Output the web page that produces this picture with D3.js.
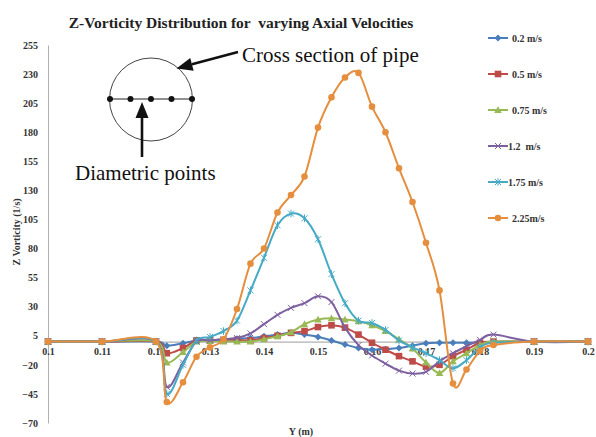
<!DOCTYPE html>
<html><head><meta charset="utf-8">
<script src="https://cdn.jsdelivr.net/npm/d3@7/dist/d3.min.js"></script>
<style>
body{margin:0;background:#fff}
svg{display:block}
text{font-family:"Liberation Serif","Times New Roman",serif;white-space:pre}
</style>
</head><body>
<svg id="c" width="596" height="437"></svg>
<script>
// ---- data ----
const yPositions = [0.1, 0.11, 0.12, 0.122, 0.125, 0.1275, 0.13, 0.1325, 0.135, 0.1375, 0.14, 0.1425, 0.145, 0.1475, 0.15, 0.1525, 0.155, 0.1575, 0.16, 0.1625, 0.165, 0.1675, 0.17, 0.1725, 0.175, 0.1775, 0.18, 0.1825, 0.19, 0.2];
const v0_2  = [0,0,0,-3.5,-1.5,1,1,2,2.5,3,4.5,6,7.5,6,4,1,-2.5,-5.5,-7,-6.5,-5.5,-3.5,-1.5,-1,-1,-1,-1,-0.5,0,0];
const v0_5  = [0,0,0,-10,-5.5,1,1,1,1.5,1,3,5,7.5,9,12.5,14,12,6,-1,-7,-12.5,-17,-21.5,-20,-12.5,-7,-1,0,0,0];
const v0_75 = [0,0,0,-18,-9,0,0.5,0,0,0,2,4.5,8,15,19,20,19,17.5,14,9,2,-6,-18,-27,-17,-10,-3,0,0,0];
const v1_2  = [0,0,0,-39,-18,0,1,2,3,7,15,23,29,33,39,34,12,-3,-12,-19,-25,-27.5,-26,-17,-10,-4,1.5,6,0,0];
const v1_75 = [0,0,0,-45,-20,1,4,9,18,44,72,100,110,106,88,58,33,18,16,10,1,-5,-10,-16,-23,-16,-5,-1,0,0];
const v2_25 = [0,0,0,-52,-35,-13,-5,2,28,67,80,111,126,142,184,210,227,231,202,180,149,120,85,44,-36,-24,-8,-3,0,0];
const seriesNames = ["0.2 m/s", "0.5 m/s", "0.75 m/s", "1.2  m/s", "1.75 m/s", "2.25m/s"];
const seriesValues = [v0_2, v0_5, v0_75, v1_2, v1_75, v2_25];
const xTickValues = [0.1, 0.11, 0.12, 0.13, 0.14, 0.15, 0.16, 0.17, 0.18, 0.19, 0.2];
const yTickValues = [-70, -45, -20, 5, 30, 55, 80, 105, 130, 155, 180, 205, 230, 255];

// ---- style ----
const colors = ["#4A7EBB", "#BE4B48", "#98B954", "#7D60A0", "#46AAC5", "#E58E3E"];
const markers = ["diamond", "square", "triangle", "x", "star", "circle"];
const FONT = '"Liberation Serif","Times New Roman",serif';

const svg = d3.select("#c");
const x = d3.scaleLinear().domain([0.1, 0.2]).range([48, 588]);
const y = d3.scaleLinear().domain([-70, 255]).range([423, 45]);

// title
svg.append("text").attr("x", 241).attr("y", 28).attr("text-anchor", "middle")
  .attr("font-size", 15.5).attr("font-weight", "bold").attr("fill", "#222")
  .text("Z-Vorticity Distribution for  varying Axial Velocities");

// y axis
const gy = svg.append("g").attr("transform", "translate(48,0)")
  .call(d3.axisLeft(y).tickValues(yTickValues).tickSize(0).tickPadding(10));
gy.select(".domain").attr("stroke", "#b0b0b0").attr("stroke-width", 1);
gy.selectAll("text").attr("font-size", 10).attr("font-weight", "bold").attr("fill", "#333")
  .style("font-family", FONT);

// x axis at zero
const gx = svg.append("g").attr("transform", `translate(0,${y(0)})`)
  .call(d3.axisBottom(x).tickValues(xTickValues).tickSize(0).tickPadding(6)
    .tickFormat(d => String(+d.toFixed(2))));
gx.select(".domain").attr("stroke", "#b0b0b0").attr("stroke-width", 1.2);
gx.selectAll("text").attr("font-size", 10).attr("font-weight", "bold").attr("fill", "#333")
  .style("font-family", FONT);

// axis titles
svg.append("text").attr("transform", "translate(20,232) rotate(-90)").attr("text-anchor", "middle")
  .attr("font-size", 10).attr("font-weight", "bold").attr("fill", "#333").text("Z Vorticity (1/s)");
svg.append("text").attr("x", 301).attr("y", 435).attr("text-anchor", "middle")
  .attr("font-size", 10).attr("font-weight", "bold").attr("fill", "#333").text("Y (m)");

// marker drawer
function drawMarker(g, type, color) {
  const r = 3.5;
  if (type === "diamond") g.append("path").attr("d", `M0,${-r}L${r},0L0,${r}L${-r},0Z`).attr("fill", color);
  else if (type === "square") g.append("rect").attr("x", -3.3).attr("y", -3.3).attr("width", 6.6).attr("height", 6.6).attr("fill", color);
  else if (type === "triangle") g.append("path").attr("d", `M0,-3.8L3.8,3L-3.8,3Z`).attr("fill", color);
  else if (type === "circle") g.append("circle").attr("r", 3.3).attr("fill", color);
  else if (type === "x") g.append("path").attr("d", `M-3,-3L3,3M-3,3L3,-3`).attr("stroke", color).attr("stroke-width", 1).attr("fill", "none");
  else if (type === "star") g.append("path").attr("d", `M-3,-3L3,3M-3,3L3,-3M0,-3.8L0,3.8`).attr("stroke", color).attr("stroke-width", 1).attr("fill", "none");
}

// series
const line = d3.line().x(d => x(d[0])).y(d => y(d[1])).curve(d3.curveCatmullRom.alpha(0));
seriesValues.forEach((vals, i) => {
  const pts = yPositions.map((p, k) => [p, vals[k]]);
  svg.append("path").attr("d", line(pts)).attr("fill", "none")
    .attr("stroke", colors[i]).attr("stroke-width", 2).attr("stroke-linejoin", "round");
  pts.forEach(p => {
    const g = svg.append("g").attr("transform", `translate(${x(p[0])},${y(p[1])})`);
    drawMarker(g, markers[i], colors[i]);
  });
});

// legend
seriesNames.forEach((name, i) => {
  const ly = 38 + i * 36;
  svg.append("line").attr("x1", 488).attr("x2", 508).attr("y1", ly).attr("y2", ly)
    .attr("stroke", colors[i]).attr("stroke-width", 2);
  drawMarker(svg.append("g").attr("transform", `translate(498,${ly})`), markers[i], colors[i]);
  svg.append("text").attr("x", (i === 3 || i === 4) ? 508 : 512).attr("y", ly + 3.5)
    .attr("font-size", 10).attr("font-weight", "bold").attr("fill", "#333").text(name);
});

// inset schematic: pipe cross section
svg.append("circle").attr("cx", 151).attr("cy", 99.5).attr("r", 41.5)
  .attr("fill", "none").attr("stroke", "#444").attr("stroke-width", 1);
svg.append("line").attr("x1", 110).attr("x2", 192).attr("y1", 99).attr("y2", 99)
  .attr("stroke", "#222").attr("stroke-width", 1.2);
[110, 130.5, 151, 171.5, 192].forEach(cx => svg.append("circle").attr("cx", cx).attr("cy", 99).attr("r", 3).attr("fill", "#111"));

function arrow(x1, y1, x2, y2) {
  const dx = x2 - x1, dy = y2 - y1, L = Math.hypot(dx, dy);
  const ux = dx / L, uy = dy / L, hl = 16, hw = 6.5;
  const bx = x2 - ux * hl, by = y2 - uy * hl;
  svg.append("line").attr("x1", x1).attr("y1", y1).attr("x2", bx).attr("y2", by)
    .attr("stroke", "#111").attr("stroke-width", 2.6);
  svg.append("path").attr("d", `M${x2},${y2}L${bx - uy * hw},${by + ux * hw}L${bx + uy * hw},${by - ux * hw}Z`).attr("fill", "#111");
}
arrow(238, 52, 176.5, 68.5);
arrow(142, 157, 142, 102);

svg.append("text").attr("x", 242).attr("y", 62).attr("font-size", 21).attr("fill", "#111").text("Cross section of pipe");
svg.append("text").attr("x", 75).attr("y", 180).attr("font-size", 21).attr("fill", "#111").text("Diametric points");
</script>
</body></html>
